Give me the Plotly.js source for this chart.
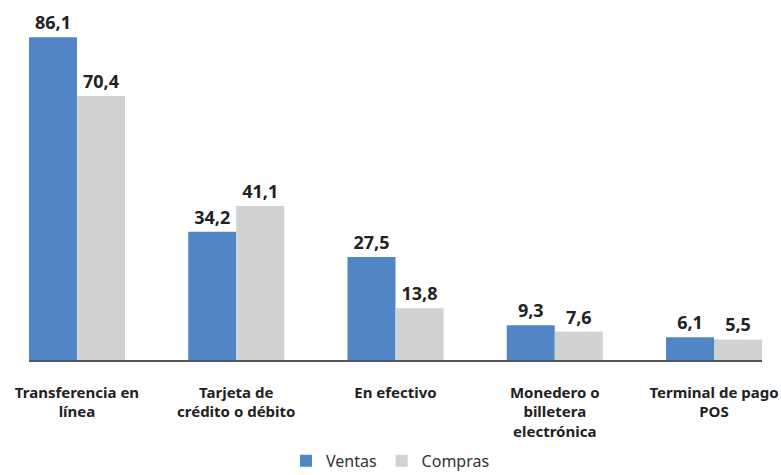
<!DOCTYPE html>
<html>
<head>
<meta charset="utf-8">
<script src="https://cdn.plot.ly/plotly-3.0.1.min.js"></script>
<style>html,body{margin:0;padding:0;background:#fff;}#chart{width:781px;height:475px;}</style>
</head>
<body>
<div id="chart"></div>
<script>
var categories = ["Transferencia en<br>línea", "Tarjeta de<br>crédito o débito", "En efectivo", "Monedero o<br>billetera<br>electrónica", "Terminal de pago<br>POS"];
var ventas = [86.1, 34.2, 27.5, 9.3, 6.1];
var compras = [70.4, 41.1, 13.8, 7.6, 5.5];
function fmt(arr){ return arr.map(function(v){ return v.toFixed(1).replace('.', ','); }); }

var font = "Noto Sans, Open Sans, sans-serif";
var traces = [
  {type:'bar', name:'Ventas', x:categories, y:ventas, text:fmt(ventas), textposition:'outside',
   marker:{color:'#5086C6'}, cliponaxis:false,
   textfont:{family:font, size:18, color:'#222', weight:'bold'}, hoverinfo:'none'},
  {type:'bar', name:'Compras', x:categories, y:compras, text:fmt(compras), textposition:'outside',
   marker:{color:'#D0D1D1'}, cliponaxis:false,
   textfont:{family:font, size:18, color:'#222', weight:'bold'}, hoverinfo:'none'}
];
var layout = {
  width:781, height:475,
  margin:{l:29, r:19, t:30, b:115},
  paper_bgcolor:'#fff', plot_bgcolor:'#fff',
  barmode:'group', bargap:0.397, bargroupgap:0,
  font:{family:font, color:'#222'},
  xaxis:{range:[-0.3013, 4.3013], showline:true, linecolor:'#555', linewidth:1.5,
    ticks:'outside', ticklen:18, tickcolor:'rgba(0,0,0,0)', automargin:false,
    tickfont:{family:font, size:15, color:'#222', weight:'bold'}, fixedrange:true},
  yaxis:{range:[0, 88], visible:false, showgrid:false, zeroline:false, fixedrange:true, automargin:false},
  showlegend:true,
  legend:{orientation:'h', x:0.5, xanchor:'center', xref:'container', y:0.03, yanchor:'middle', yref:'container',
    font:{family:font, size:16, color:'#333'}, itemwidth:30, traceorder:'normal'}
};
Plotly.newPlot('chart', traces, layout, {displayModeBar:false, staticPlot:true});
</script>
</body>
</html>
